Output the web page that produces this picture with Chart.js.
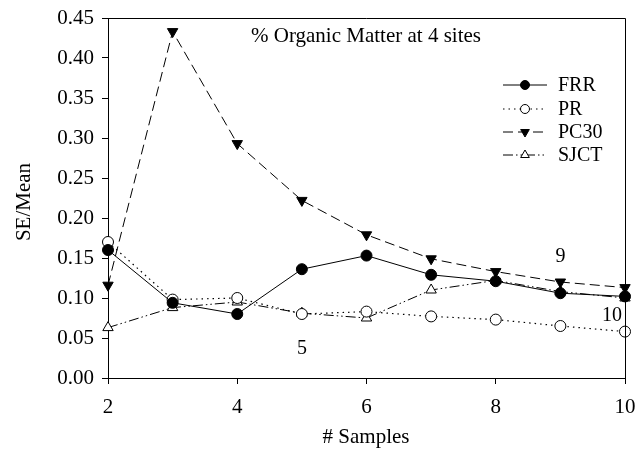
<!DOCTYPE html>
<html>
<head>
<meta charset="utf-8">
<script src="https://cdn.jsdelivr.net/npm/chart.js@4.4.0/dist/chart.umd.min.js"></script>
<style>
html,body{margin:0;padding:0;background:#fff;}
#wrap{width:641px;height:467px;position:relative;}
</style>
</head>
<body>
<div id="wrap"><canvas id="c" width="641" height="467"></canvas></div>
<script>
const samples = [2, 3, 4, 5, 6, 7, 8, 9, 10];
const FRR  = [0.160, 0.094, 0.080, 0.136, 0.153, 0.129, 0.121, 0.106, 0.102];
const PR   = [0.170, 0.098, 0.100, 0.080, 0.083, 0.077, 0.073, 0.065, 0.058];
const PC30 = [0.116, 0.433, 0.293, 0.222, 0.179, 0.149, 0.133, 0.120, 0.113];
const SJCT = [0.063, 0.088, 0.095, 0.081, 0.075, 0.110, 0.122, 0.108, 0.100];
const xTicks = [2, 4, 6, 8, 10];
const yTicks = [0, 0.05, 0.10, 0.15, 0.20, 0.25, 0.30, 0.35, 0.40, 0.45];
const chartTitle = "% Organic Matter at 4 sites";
const xTitle = "# Samples";
const yTitle = "SE/Mean";
const notes = [{x: 5, y: 0.037, t: "5"}, {x: 9, y: 0.152, t: "9"}, {x: 9.8, y: 0.078, t: "10"}];

const FONT = "'Liberation Serif', 'Times New Roman', serif";
const pts = arr => arr.map((v, i) => ({x: samples[i], y: v}));

const datasets = [
  {label: "FRR", data: pts(FRR), borderColor: "#000", backgroundColor: "#000", borderWidth: 1,
   pointStyle: "circle", pointRadius: 5.5, pointBackgroundColor: "#000", pointBorderColor: "#000", borderDash: []},
  {label: "PR", data: pts(PR), borderColor: "#000", backgroundColor: "#fff", borderWidth: 1.2,
   pointStyle: "circle", pointRadius: 5.5, pointBackgroundColor: "#fff", pointBorderColor: "#000", pointBorderWidth: 1, borderDash: [1.5, 4]},
  {label: "PC30", data: pts(PC30), borderColor: "#000", backgroundColor: "#000", borderWidth: 1,
   pointStyle: "triangle", pointRotation: 180, pointRadius: 6, pointBackgroundColor: "#000", pointBorderColor: "#000", borderDash: [10, 5]},
  {label: "SJCT", data: pts(SJCT), borderColor: "#000", backgroundColor: "#fff", borderWidth: 1,
   pointStyle: "triangle", pointRadius: 6, pointBackgroundColor: "#fff", pointBorderColor: "#000", pointBorderWidth: 1, borderDash: [10, 3, 1.5, 3, 1.5, 3]}
];
datasets.forEach(d => { d.fill = false; d.tension = 0; d.showLine = true; d.clip = false; });

const deco = {
  id: "deco",
  afterDraw(chart) {
    const {ctx, chartArea: a, scales} = chart;
    ctx.save();
    ctx.strokeStyle = "#000"; ctx.lineWidth = 1;
    ctx.beginPath();
    ctx.moveTo(a.left, a.top + 0.5); ctx.lineTo(a.right + 0.5, a.top + 0.5); ctx.lineTo(a.right + 0.5, a.bottom);
    ctx.stroke();
    ctx.fillStyle = "#000";
    ctx.font = "21px " + FONT; ctx.textAlign = "center"; ctx.textBaseline = "middle";
    ctx.fillText(chartTitle, 366, 36);
    ctx.fillText(xTitle, 366, 437);
    ctx.save(); ctx.translate(24, 202); ctx.rotate(-Math.PI/2); ctx.fillText(yTitle, 0, 0); ctx.restore();
    ctx.font = "20px " + FONT;
    notes.forEach(n => ctx.fillText(n.t, scales.x.getPixelForValue(n.x), scales.y.getPixelForValue(n.y)));
    const rows = [85, 109, 132, 155];
    ctx.textAlign = "left";
    chart.data.datasets.forEach((d, i) => {
      const y = rows[i];
      ctx.save();
      ctx.strokeStyle = "#000"; ctx.lineWidth = d.borderWidth;
      ctx.setLineDash(d.borderDash);
      ctx.beginPath(); ctx.moveTo(503, y); ctx.lineTo(547, y); ctx.stroke();
      ctx.setLineDash([]);
      ctx.fillStyle = d.pointBackgroundColor; ctx.strokeStyle = "#000"; ctx.lineWidth = 1;
      Chart.helpers.drawPoint(ctx, {pointStyle: d.pointStyle, rotation: d.pointRotation || 0, radius: d.pointRadius - 1, borderWidth: 1}, 525, y);
      ctx.restore();
      ctx.fillStyle = "#000";
      ctx.fillText(d.label, 558, y + 1);
    });
    ctx.restore();
  }
};

new Chart(document.getElementById("c"), {
  type: "scatter",
  data: {datasets},
  options: {
    responsive: false, animation: false, devicePixelRatio: 1,
    layout: {padding: {left: 0, top: 18, right: 16, bottom: 0}},
    plugins: {legend: {display: false}, tooltip: {enabled: false}},
    scales: {
      x: {
        type: "linear", min: 2, max: 10,
        afterBuildTicks: s => { s.ticks = xTicks.map(v => ({value: v})); },
        afterFit: s => { s.height = 89; s.paddingLeft = 0; s.paddingRight = 0; },
        grid: {display: true, drawOnChartArea: false, drawTicks: true, tickLength: 6, color: "#000", tickColor: "#000"},
        border: {display: true, color: "#000", width: 1},
        ticks: {color: "#000", font: {family: FONT, size: 21}, padding: 11, maxRotation: 0, callback: v => String(v)}
      },
      y: {
        type: "linear", min: 0, max: 0.45,
        afterBuildTicks: s => { s.ticks = yTicks.map(v => ({value: v})); },
        afterFit: s => { s.width = 108; s.paddingTop = 0; s.paddingBottom = 0; },
        grid: {display: true, drawOnChartArea: false, drawTicks: true, tickLength: 6, color: "#000", tickColor: "#000"},
        border: {display: true, color: "#000", width: 1},
        ticks: {color: "#000", font: {family: FONT, size: 21}, padding: 8, callback: v => Number(v).toFixed(2)}
      }
    }
  },
  plugins: [deco]
});
</script>
</body>
</html>
